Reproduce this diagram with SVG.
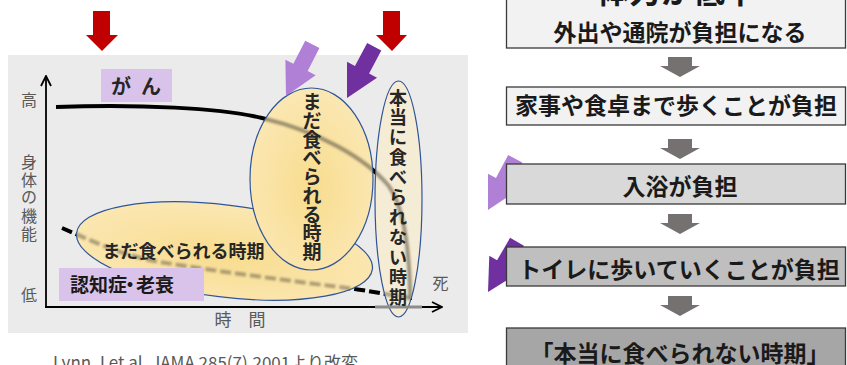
<svg xmlns="http://www.w3.org/2000/svg" width="847" height="365" viewBox="0 0 847 365">
<style>
.jp{font-family:"Noto Sans CJK JP","Noto Sans",sans-serif}
.ax{fill:#595959;font-size:16px}
.lbl{fill:#262626;font-weight:bold}
.box{stroke:#3a3a3a;stroke-width:1.3}
.bt{fill:#1a1a1a;font-size:23px;font-weight:bold;text-anchor:middle}
.ell{stroke:#2f5597;stroke-width:1.2}
.garrow{fill:#767171}
</style>
<defs>
<radialGradient id="yg" cx="0.5" cy="0.55" r="0.6">
<stop offset="0" stop-color="#f8dc8e"/>
<stop offset="1" stop-color="#fbe8b6"/>
</radialGradient>
<path id="gar" d="M8,0 H32 V9 H40 L20,20 L0,9 H8 Z"/>
<path id="par" d="M-8,-58 H8 V-32 H17 L0,0 L-17,-32 H-8 Z"/>
<clipPath id="ellclip">
<ellipse cx="224.5" cy="251" rx="149" ry="46" transform="rotate(7 224.5 251)"/>
<ellipse cx="311.5" cy="179" rx="61.5" ry="91"/>
<ellipse cx="398.5" cy="199" rx="23.5" ry="118"/>
</clipPath>
<filter id="blur" x="-10%" y="-10%" width="120%" height="120%"><feGaussianBlur stdDeviation="1.3"/></filter>
<marker id="open" viewBox="0 0 12 12" refX="11" refY="6" markerWidth="12" markerHeight="12" markerUnits="userSpaceOnUse" orient="auto"><path d="M1,1 L11,6 L1,11" fill="none" stroke="#000" stroke-width="1.8"/></marker>
</defs>

<!-- left chart panel -->
<g id="panel">
<rect x="8" y="55" width="460" height="278" fill="#ebebeb"/>
</g>

<g id="red-arrows" fill="#c00000">
<path d="M93,11 H110 V35 H118 L102,51 L86,35 H93 Z"/>
<path d="M383,11 H400 V35 H407 L392,51 L376,35 H383 Z"/>
</g>

<g id="axes" stroke="#000" stroke-width="1.8" fill="none">
<line x1="46" y1="307" x2="46" y2="76" marker-end="url(#open)"/>
<line x1="45" y1="307" x2="442" y2="307" marker-end="url(#open)"/>
</g>
<g id="axis-labels" class="jp ax">
<text x="29" y="106" text-anchor="middle">高</text>
<text x="29 29 29 29 29" y="168 186 203 222 240" text-anchor="middle">身体の機能</text>
<text x="29" y="301" text-anchor="middle">低</text>
<text x="240" y="326" text-anchor="middle" style="font-size:17px">時　間</text>
<text x="440.5" y="289" text-anchor="middle">死</text>
</g>

<!-- curves (black, under ellipses) -->
<g id="curves" fill="none">
<path id="cancer" d="M56,107 C140,104 220,108 262,118 C320,132 365,158 388,185 C404,206 409,250 410,290 L410,300" stroke="#000" stroke-width="4"/>
<path id="dementia" d="M62,228 C90,240 120,255 160,262 C220,272 300,282 355,289 C375,292 395,296 412,298" stroke="#000" stroke-width="4" stroke-dasharray="11 4"/>
</g>

<g id="ellipse-long">
<ellipse class="ell" cx="224.5" cy="251" rx="149" ry="46" transform="rotate(7 224.5 251)" fill="url(#yg)"/>
</g>
<g id="ellipse-eat">
<ellipse class="ell" cx="311.5" cy="179" rx="61.5" ry="91" fill="url(#yg)"/>
</g>
<g id="ellipse-noteat">
<ellipse class="ell" cx="398.5" cy="199" rx="23.5" ry="118" fill="#f5ecd6"/>
</g>

<!-- muted curves seen through ellipses -->
<g id="curves-muted" fill="none" clip-path="url(#ellclip)">
<g filter="url(#blur)">
<path d="M56,107 C140,104 220,108 262,118 C320,132 365,158 388,185 C404,206 409,250 410,290 L410,300" stroke="#6e654f" stroke-opacity="0.65" stroke-width="4"/>
<path d="M62,228 C90,240 120,255 160,262 C220,272 300,282 355,289 C375,292 395,296 412,298" stroke="#857858" stroke-opacity="0.65" stroke-width="4" stroke-dasharray="11 4"/>
</g>
</g>
<line x1="375" y1="307" x2="422" y2="307" stroke="#8c8c8c" stroke-width="3"/>

<g id="label-cancer">
<rect x="101" y="69" width="71" height="33" fill="#dac3ea"/>
<text class="jp lbl" x="111 131 141" y="94" style="font-size:20px">が ん</text>
</g>
<g id="label-dementia">
<rect x="59" y="268" width="145" height="33" fill="#dac3ea"/>
<text class="jp lbl" x="70 89 108 120.5 136 155" y="292" style="font-size:19px;fill:#1a1a1a">認知症・老衰</text>
</g>
<g id="text-long" class="jp lbl">
<text x="183.5" y="258" text-anchor="middle" style="font-size:18px">まだ食べられる時期</text>
</g>
<g id="text-eat" class="jp lbl">
<text x="312 312 312 312 312 312 312 312 312" y="109 127.75 146.5 165.25 184 202.75 221.5 240.25 259" text-anchor="middle" style="font-size:19px">まだ食べられる時期</text>
</g>
<g id="text-noteat" class="jp lbl">
<text x="398 398 398 398 398 398 398 398 398 398 398" y="104.5 124.4 144.3 164.2 184.1 204 223.9 243.8 263.7 283.6 303.5" text-anchor="middle" style="font-size:18px">本当に食べられない時期</text>
</g>

<g id="purple-arrows">
<use href="#par" transform="translate(286,96) rotate(27)" fill="#b07fd6"/>
<use href="#par" transform="translate(347,98) rotate(28)" fill="#7030a0"/>
<use href="#par" transform="translate(488,210) rotate(28)" fill="#b07fd6"/>
<use href="#par" transform="translate(488,292) rotate(30)" fill="#7030a0"/>
</g>

<g id="caption">
<text class="jp" x="53" y="369" style="font-size:17px;fill:#595959">Lynn.J et al. JAMA 285(7),2001より改変</text>
</g>

<!-- flow -->
<g id="step1">
<rect class="box" x="506.5" y="-10" width="339" height="58" fill="#f2f2f2"/>
<text class="jp bt" x="677" y="3" style="font-size:32px">体力が低下</text>
<text class="jp bt" x="680" y="41">外出や通院が負担になる</text>
</g>
<g id="step2">
<rect class="box" x="506.5" y="87" width="339" height="38" fill="#f2f2f2"/>
<text class="jp bt" x="676" y="114">家事や食卓まで歩くことが負担</text>
</g>
<g id="step3">
<rect class="box" x="506.5" y="164" width="339" height="40" fill="#d9d9d9"/>
<text class="jp bt" x="680" y="195">入浴が負担</text>
</g>
<g id="step4">
<rect class="box" x="506.5" y="247" width="339" height="39" fill="#bfbfbf"/>
<text class="jp bt" x="679" y="278">トイレに歩いていくことが負担</text>
</g>
<g id="step5">
<rect class="box" x="506.5" y="328" width="339" height="50" fill="#a6a6a6"/>
<text class="jp bt" x="680" y="362">「本当に食べられない時期」</text>
</g>

<g id="connectors" class="garrow">
<use href="#gar" x="660" y="57"/>
<use href="#gar" x="660" y="139"/>
<use href="#gar" x="660" y="214"/>
<use href="#gar" x="660" y="296"/>
</g>
</svg>
